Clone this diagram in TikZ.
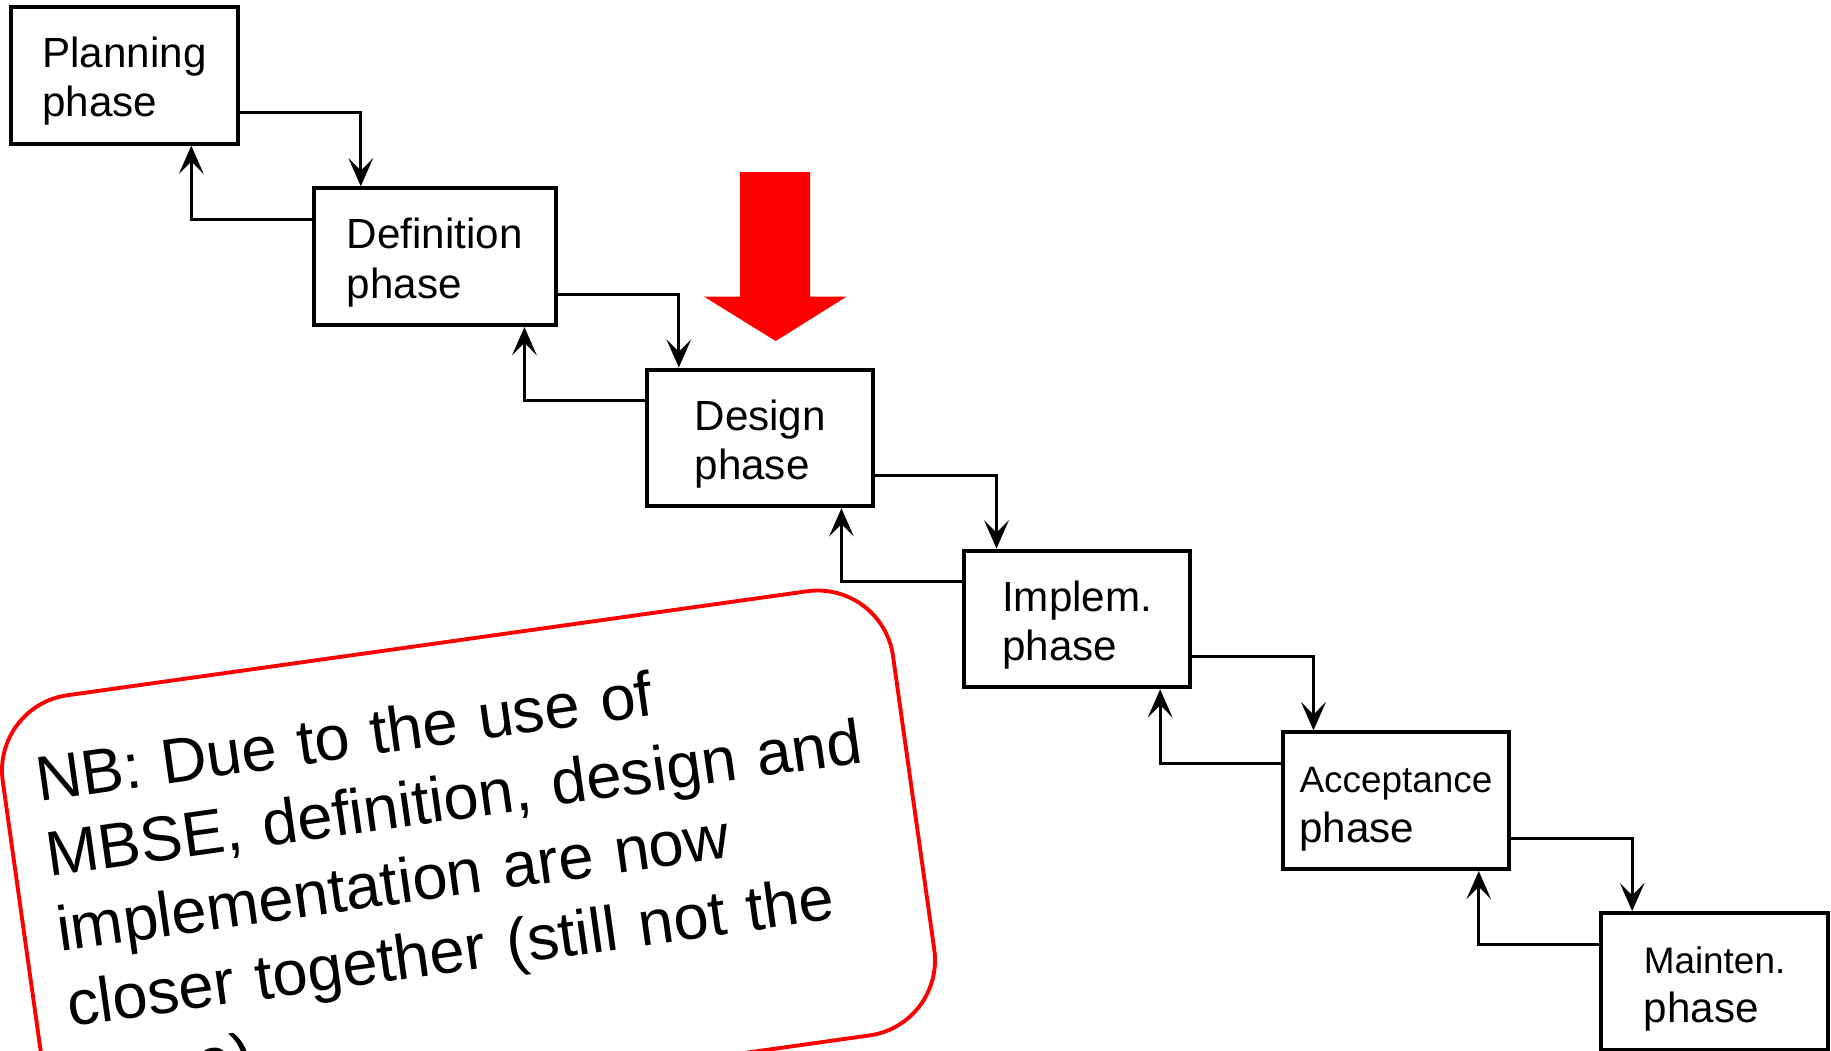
\documentclass[tikz,border=0pt]{standalone}
\usepackage{fontspec}
\setmainfont{Liberation Sans}
\usetikzlibrary{arrows.meta,positioning}

\begin{document}
\begin{tikzpicture}[
        phase/.style={rectangle, draw, line width=1.15pt, minimum width=2.265cm, minimum height=1.367cm, align=left, inner sep=0pt, font=\fontsize{12}{14}\selectfont, execute at begin node={\rule{0pt}{26pt}}},
        flow/.style={-{Stealth[length=8pt, width=7pt, inset=3.5pt]}, line width=0.85pt},
        note/.style={draw=red, line width=1.1pt, rounded corners=0.76cm, minimum width=8.99cm, minimum height=4.485cm, text width=8.33cm, inner xsep=0.33cm, align=left, font=\fontsize{18}{21.5}\selectfont, execute at begin node={\rule{0pt}{20pt}}},
    ]
        \useasboundingbox (0,0) rectangle (18.31,-10.5);

        % Phases, stepping down to the right
        \node[phase] (plan) at (1.245,-0.753) {Planning\\phase};
        \node[phase, minimum width=2.42cm] (def) at (4.348,-2.567) {Definition\\phase};
        \node[phase] (des) at (7.602,-4.379) {Design\\phase};
        \node[phase] (imp) at (10.772,-6.189) {Implem.\\phase};
        \node[phase] (acc) at (13.959,-8.007) {{\fontsize{10.5}{12}\selectfont Acceptance}\\phase};
        \node[phase] (mnt) at (17.145,-9.815) {{\fontsize{10.5}{12}\selectfont Mainten.}\\phase};

        % Forward flow
        \draw[flow] ([yshift=-3.75mm]plan.east) -| ([xshift=12.1mm]plan.east |- def.north);
        \draw[flow] ([yshift=-3.75mm]def.east) -| ([xshift=12.1mm]def.east |- des.north);
        \draw[flow] ([yshift=-3.75mm]des.east) -| ([xshift=12.1mm]des.east |- imp.north);
        \draw[flow] ([yshift=-3.75mm]imp.east) -| ([xshift=12.1mm]imp.east |- acc.north);
        \draw[flow] ([yshift=-3.75mm]acc.east) -| ([xshift=12.1mm]acc.east |- mnt.north);

        % Feedback
        \draw[flow] ([yshift=3.75mm]def.west) -| ([xshift=-12.05mm]def.west |- plan.south);
        \draw[flow] ([yshift=3.75mm]des.west) -| ([xshift=-12.05mm]des.west |- def.south);
        \draw[flow] ([yshift=3.75mm]imp.west) -| ([xshift=-12.05mm]imp.west |- des.south);
        \draw[flow] ([yshift=3.75mm]acc.west) -| ([xshift=-12.05mm]acc.west |- imp.south);
        \draw[flow] ([yshift=3.75mm]mnt.west) -| ([xshift=-12.05mm]mnt.west |- acc.south);

        % Big red marker above the design phase
        \fill[red] (7.40,-1.72) -- (8.10,-1.72) -- (8.10,-2.966) -- (8.466,-2.966) -- (7.757,-3.41) -- (7.04,-2.966) -- (7.40,-2.966) -- cycle;

        % Callout
        \node[note, rotate=8] (nb) at (4.685,-8.653) {NB: Due to the use of\\MBSE, definition, design and\\implementation are now\\closer together (still not the\\same)};
    \end{tikzpicture}
\end{document}
